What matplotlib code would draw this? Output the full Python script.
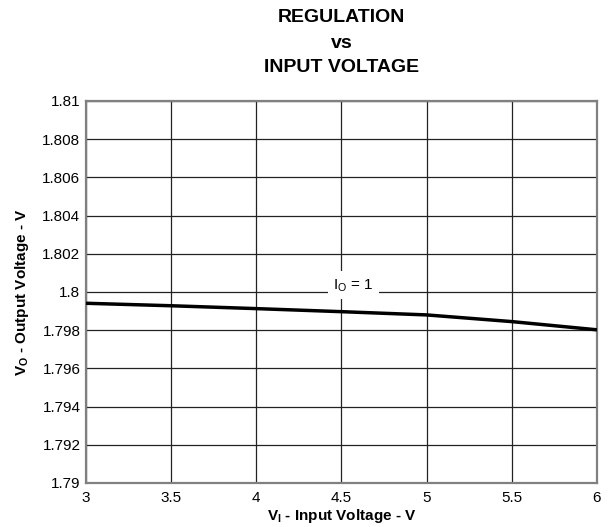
import matplotlib
matplotlib.use("Agg")
import matplotlib.pyplot as plt

plt.rcParams['font.family'] = ['Liberation Sans', 'DejaVu Sans']
plt.rcParams['mathtext.fontset'] = 'custom'
plt.rcParams['mathtext.rm'] = 'Liberation Sans'
plt.rcParams['mathtext.bf'] = 'Liberation Sans:bold'

vin = [3.0, 3.5, 4.0, 4.5, 5.0, 5.5, 6.0]
vout = [1.79941, 1.79928, 1.79913, 1.79897, 1.79880, 1.79845, 1.79802]
xticks = [3, 3.5, 4, 4.5, 5, 5.5, 6]
xticklabels = ['3', '3.5', '4', '4.5', '5', '5.5', '6']
yticks = [1.79, 1.792, 1.794, 1.796, 1.798, 1.8, 1.802, 1.804, 1.806, 1.808, 1.81]
yticklabels = ['1.79', '1.792', '1.794', '1.796', '1.798', '1.8', '1.802', '1.804', '1.806', '1.808', '1.81']

fig = plt.figure(figsize=(6.12, 5.27), dpi=100)
ax = fig.add_axes([86/612, 1-483/527, (597-86)/612, (483-101)/527])

ax.plot(vin, vout, color='black', lw=2.5, solid_capstyle='butt', zorder=3)
ax.set_xlim(3, 6)
ax.set_ylim(1.79, 1.81)
ax.set_xticks(xticks)
ax.set_xticklabels(xticklabels)
ax.set_yticks(yticks)
ax.set_yticklabels(yticklabels)
ax.tick_params(axis='both', length=0, labelsize=11)
ax.tick_params(axis='x', pad=6)
ax.tick_params(axis='y', pad=4)
ax.grid(True, color='#222222', lw=0.9)
for s in ax.spines.values():
    s.set_color('#808080')
    s.set_linewidth(1.6)

ax.text(4.57, 1.80035, r'I$_\mathregular{O}$ = 1', fontsize=11, ha='center', va='center',
        bbox=dict(facecolor='white', edgecolor='none', pad=4), zorder=4)

ax.set_xlabel(r'V$_\mathbf{I}$ - Input Voltage - V', fontsize=11, fontweight='bold', labelpad=1)
ax.set_ylabel(r'V$_\mathbf{O}$ - Output Voltage - V', fontsize=11, fontweight='bold', labelpad=8)

cx = (86 + 597) / 2 / 612
fig.text(cx, 1-18/527, 'REGULATION', ha='center', va='center', fontsize=14, fontweight='bold')
fig.text(cx, 1-43/527, 'vs', ha='center', va='center', fontsize=14, fontweight='bold')
fig.text(cx, 1-67/527, 'INPUT VOLTAGE', ha='center', va='center', fontsize=14, fontweight='bold')

fig.savefig('out.png', dpi=100)
